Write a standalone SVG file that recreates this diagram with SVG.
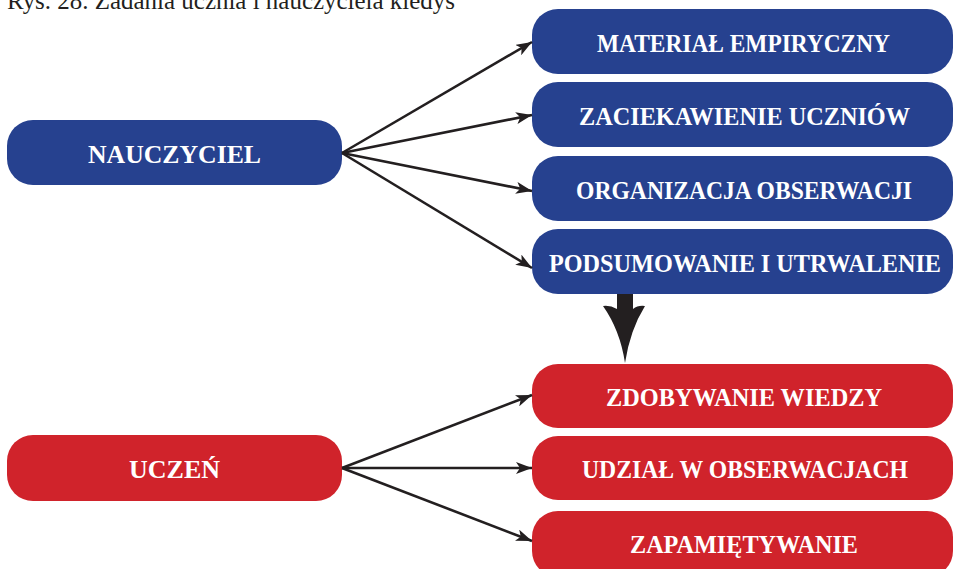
<svg xmlns="http://www.w3.org/2000/svg" width="953" height="569" viewBox="0 0 953 569">
  <style>
    .blue { fill: #26418f; }
    .red { fill: #d0232b; }
    .lbl { font-family: "Liberation Serif", "DejaVu Serif", serif; font-weight: bold; font-size: 26px; fill: #ffffff; text-anchor: middle; }
    .cap { font-family: "Liberation Serif", "DejaVu Serif", serif; font-size: 25px; fill: #231f20; }
    .edge { stroke: #231f20; stroke-width: 2.6; fill: none; marker-end: url(#head); }
  </style>
  <defs>
    <marker id="head" viewBox="0 0 16 12" refX="16" refY="6" markerWidth="16" markerHeight="12" markerUnits="userSpaceOnUse" orient="auto">
      <path d="M0,0 L16,6 L0,12 L4,6 Z" fill="#231f20"/>
    </marker>
  </defs>

  <text class="cap" x="7" y="9" textLength="448" lengthAdjust="spacingAndGlyphs">Rys. 28. Zadania ucznia i nauczyciela kiedyś</text>

  <!-- teacher and pupil -->
  <g id="nauczyciel">
    <rect class="blue" x="7" y="120" width="335" height="65" rx="26"/>
    <text class="lbl" x="174.5" y="162.5" textLength="173" lengthAdjust="spacingAndGlyphs">NAUCZYCIEL</text>
  </g>
  <g id="uczen">
    <rect class="red" x="7" y="435" width="335" height="66" rx="26"/>
    <text class="lbl" x="174.5" y="478" textLength="91" lengthAdjust="spacingAndGlyphs">UCZEŃ</text>
  </g>

  <!-- teacher tasks -->
  <g id="material">
    <rect class="blue" x="532" y="9" width="421" height="65" rx="26"/>
    <text class="lbl" x="743.5" y="51.5" textLength="293" lengthAdjust="spacingAndGlyphs">MATERIAŁ EMPIRYCZNY</text>
  </g>
  <g id="zaciekawienie">
    <rect class="blue" x="532" y="82" width="421" height="65" rx="26"/>
    <text class="lbl" x="744.5" y="124.5" textLength="331" lengthAdjust="spacingAndGlyphs">ZACIEKAWIENIE UCZNIÓW</text>
  </g>
  <g id="organizacja">
    <rect class="blue" x="532" y="156" width="421" height="65" rx="26"/>
    <text class="lbl" x="744" y="198.5" textLength="336" lengthAdjust="spacingAndGlyphs">ORGANIZACJA OBSERWACJI</text>
  </g>
  <g id="podsumowanie">
    <rect class="blue" x="532" y="229" width="421" height="65" rx="26"/>
    <text class="lbl" x="745" y="271.5" textLength="392" lengthAdjust="spacingAndGlyphs">PODSUMOWANIE I UTRWALENIE</text>
  </g>

  <!-- pupil tasks -->
  <g id="zdobywanie">
    <rect class="red" x="532" y="364" width="421" height="64" rx="26"/>
    <text class="lbl" x="744" y="406" textLength="276" lengthAdjust="spacingAndGlyphs">ZDOBYWANIE WIEDZY</text>
  </g>
  <g id="udzial">
    <rect class="red" x="532" y="436" width="421" height="64" rx="26"/>
    <text class="lbl" x="745" y="478" textLength="326" lengthAdjust="spacingAndGlyphs">UDZIAŁ W OBSERWACJACH</text>
  </g>
  <g id="zapamietywanie">
    <rect class="red" x="532" y="511" width="421" height="66" rx="26"/>
    <text class="lbl" x="744" y="553" textLength="228" lengthAdjust="spacingAndGlyphs">ZAPAMIĘTYWANIE</text>
  </g>

  <!-- connectors -->
  <g id="connectors">
    <line class="edge" x1="342" y1="153" x2="532" y2="42"/>
    <line class="edge" x1="342" y1="153" x2="532" y2="115"/>
    <line class="edge" x1="342" y1="153" x2="532" y2="191"/>
    <line class="edge" x1="342" y1="153" x2="532" y2="268"/>
    <line class="edge" x1="342" y1="468" x2="532" y2="395"/>
    <line class="edge" x1="342" y1="468" x2="532" y2="468"/>
    <line class="edge" x1="342" y1="468" x2="532" y2="541"/>
    <path d="M617,294 L633,294 L633,309 Q638,305 645,306 Q630,330 625,363 Q620,330 603,306 Q610,305 617,309 Z" fill="#231f20"/>
  </g>
</svg>
